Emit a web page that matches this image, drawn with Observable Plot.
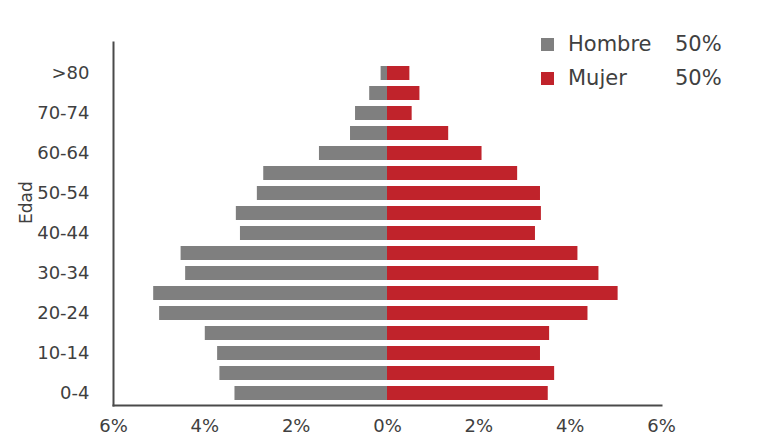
<!DOCTYPE html>
<html><head><meta charset="utf-8">
<script src="https://cdn.jsdelivr.net/npm/d3@7"></script>
<script src="https://cdn.jsdelivr.net/npm/@observablehq/plot@0.6"></script>
<style>
body{margin:0;background:#fff;font-family:"DejaVu Sans",Verdana,sans-serif;}
#wrap{position:relative;width:766px;height:437px;overflow:hidden;background:#fff;}
#legend{position:absolute;left:541px;top:27px;color:#404040;font-size:21px;}
.row{display:flex;align-items:center;height:34px;white-space:nowrap;}
.sw{width:13px;height:13px;margin-right:14px;flex:none;}
.lab{width:107px;}
</style></head><body><div id="wrap"></div>
<script>
const ages = ["0-4","5-9","10-14","15-19","20-24","25-29","30-34","35-39","40-44","45-49","50-54","55-59","60-64","65-69","70-74","75-79",">80"];
const hombre = [3.34,3.67,3.72,3.99,4.99,5.12,4.42,4.52,3.22,3.31,2.85,2.71,1.49,0.81,0.70,0.39,0.14];
const mujer  = [3.52,3.66,3.35,3.55,4.39,5.05,4.63,4.17,3.24,3.37,3.35,2.85,2.07,1.34,0.54,0.71,0.49];
const sexes = ["Hombre","Mujer"];
const totals = ["50%","50%"];
const colors = ["#7f7f7f","#c0232b"];
const xTicks = [-6,-4,-2,0,2,4,6];
const yLabels = ["0-4","10-14","20-24","30-34","40-44","50-54","60-64","70-74",">80"];
const yTitle = "Edad";

const data = ages.flatMap((a,i)=>[
  {age:a, sex:sexes[0], v:-hombre[i]},
  {age:a, sex:sexes[1], v:mujer[i]}
]);

const chart = Plot.plot({
  width:766, height:437,
  marginLeft:113, marginRight:105, marginTop:42, marginBottom:32,
  style:{fontFamily:"'DejaVu Sans', Verdana, sans-serif", color:"#404040", background:"transparent"},
  x:{domain:[-6,6]},
  y:{domain:ages.slice().reverse(), paddingInner:0.3, paddingOuter:0.15, insetTop:18},
  color:{domain:sexes, range:colors},
  marks:[
    Plot.barX(data,{x:"v", y:"age", fill:"sex"}),
    Plot.frame({anchor:"left", stroke:"#4a4a4a", strokeWidth:2}),
    Plot.frame({anchor:"bottom", stroke:"#4a4a4a", strokeWidth:2}),
    Plot.axisY({ticks:yLabels, tickSize:0, tickPadding:24, fontSize:18, label:null}),
    Plot.axisX({ticks:xTicks, tickFormat:d=>Math.abs(d)+"%", tickSize:0, tickPadding:14, fontSize:18, label:null}),
    Plot.text([yTitle],{frameAnchor:"left", rotate:-90, dx:-87, fontSize:17, fill:"#404040"})
  ]
});
const wrap = document.getElementById("wrap");
wrap.appendChild(chart);
const legend = document.createElement("div");
legend.id = "legend";
sexes.forEach((s,i)=>{
  const row = document.createElement("div");
  row.className = "row";
  row.innerHTML = `<div class="sw" style="background:${colors[i]}"></div><span class="lab">${s}</span><span>${totals[i]}</span>`;
  legend.appendChild(row);
});
wrap.appendChild(legend);
</script>
</body></html>
